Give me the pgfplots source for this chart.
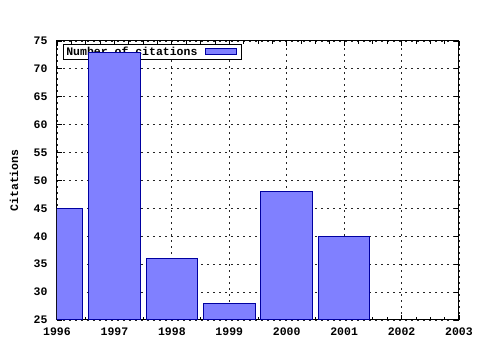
\documentclass[border=0pt]{standalone}
\usepackage{fontspec}
\setmainfont{Liberation Mono}
\usepackage{pgfplots}
\pgfplotsset{compat=1.18}
\definecolor{barfill}{RGB}{128,128,255}
\definecolor{barline}{RGB}{0,0,160}
\pgfplotsset{
  common/.style={
    at={(57pt,30pt)}, anchor=south west,
    scale only axis, width=402pt, height=279pt,
    xmin=1996, xmax=2003, ymin=25, ymax=75,
    ybar, bar width=0.9,
  },
}
\begin{document}
\begin{tikzpicture}[x=1pt,y=1pt]
\path[use as bounding box] (0,0) rectangle (480,350);
\begin{axis}[
  common,
  xtick={1996,1997,1998,1999,2000,2001,2002,2003},
  xticklabels={1996,1997,1998,1999,2000,2001,2002,2003},
  ytick={25,30,35,40,45,50,55,60,65,70,75},
  minor x tick num=3,
  tick align=inside,
  major tick length=5pt, minor tick length=3pt,
  every tick/.style={black, line width=0.8pt},
  axis line style={line width=1pt},
  xmajorgrids, ymajorgrids,
  major grid style={black!85, dash pattern=on 2pt off 4pt, line width=0.8pt},
  font=\bfseries\fontsize{11.5}{13}\selectfont,
  /pgf/number format/assume math mode=true,
  xticklabel style={yshift=-4pt},
  yticklabel style={xshift=-6pt},
  ylabel={Citations},
  ylabel style={at={(axis description cs:-0.107,0.5)}, anchor=center},
  legend plot pos=right,
  legend style={at={(axis description cs:0.017,0.989)}, anchor=north west,
    draw=black, line width=0.8pt, inner sep=0.5pt, outer sep=0pt,
    font=\bfseries\fontsize{11.5}{11}\selectfont,
    legend cell align=left},
  legend image code/.code={\path[draw=none,fill=none] (0pt,0pt) rectangle (41pt,0pt);\draw[fill=barfill, draw=barline, line width=1pt] (6pt,-3pt) rectangle (37pt,3pt);},
]
\addplot[fill=barfill, draw=barline, line width=1pt] coordinates {
  (1996,45) (1997,73) (1998,36) (1999,28) (2000,48) (2001,40)
};
\addlegendentry{Number of citations}
\end{axis}
\begin{axis}[common, hide axis]
\addplot[fill=barfill, draw=barline, line width=1pt] coordinates {
  (1996,45) (1997,73) (1998,36) (1999,28) (2000,48) (2001,40)
};
\end{axis}
\end{tikzpicture}
\end{document}
